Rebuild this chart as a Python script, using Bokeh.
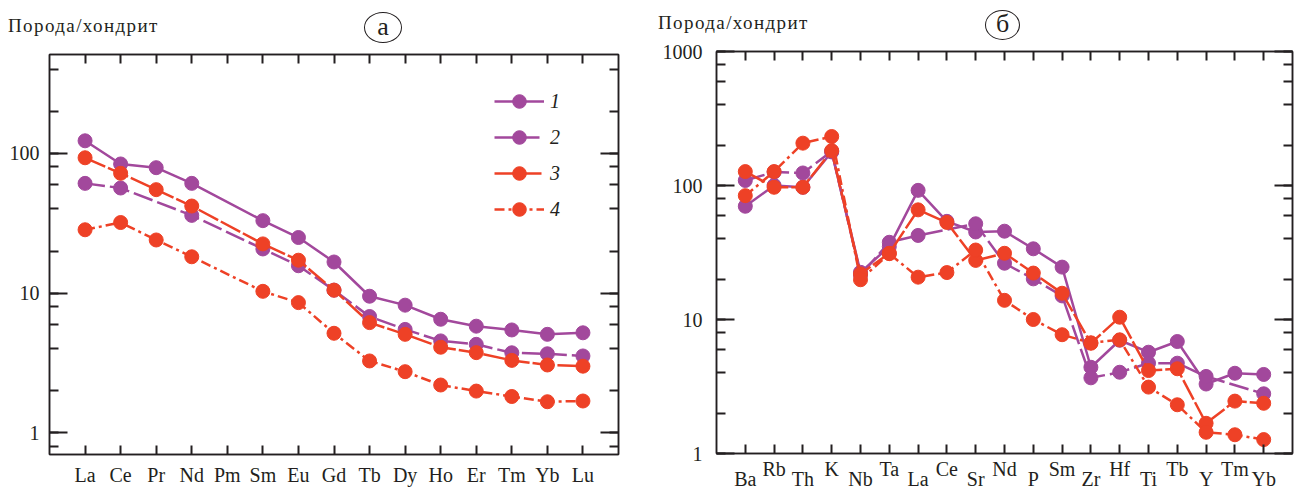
from bokeh.plotting import figure
from bokeh.models import (LinearAxis, LogAxis, FixedTicker, LogTicker, NumeralTickFormatter,
                          Legend, LegendItem, ColumnDataSource, Div)
from bokeh.layouts import row, column
from bokeh.embed import file_html
from bokeh.resources import INLINE

# ---------------- data ----------------
ree = ["La", "Ce", "Pr", "Nd", "Pm", "Sm", "Eu", "Gd", "Tb", "Dy", "Ho", "Er", "Tm", "Yb", "Lu"]
ree_1 = [123, 84, 79, 61, None, 33, 25, 16.7, 9.5, 8.2, 6.5, 5.8, 5.45, 5.07, 5.2]
ree_2 = [61, 56.5, None, 36, None, 20.7, 15.7, 10.5, 6.8, 5.5, 4.55, 4.3, 3.74, 3.68, 3.55]
ree_3 = [93, 72, 55, 42, None, 22.5, 17.2, 10.5, 6.15, 5.07, 4.1, 3.75, 3.3, 3.06, 3.0]
ree_4 = [28.4, 32, 24, 18.2, None, 10.3, 8.55, 5.16, 3.27, 2.74, 2.2, 1.99, 1.82, 1.67, 1.69]

spider = ["Ba", "Rb", "Th", "K", "Nb", "Ta", "La", "Ce", "Sr", "Nd", "P", "Sm", "Zr", "Hf",
          "Ti", "Tb", "Y", "Tm", "Yb"]
sp_1 = [70, 100, 97, 178, 22.5, 35, 92, 54, 45, 45.6, 33.7, 24.6, 4.4, 7.0, 5.7, 6.85, 3.3, 3.97, 3.89]
sp_2 = [109, 126, 124, 180, 21.5, 37.7, 42.4, None, 51.8, 26.3, 20.1, 15, 3.67, 4.04, 4.72, 4.72, 3.76, None, 2.79]
sp_3 = [127, 97, 97, 182, 21.9, 31.2, 65.8, 53, 27.6, 31.2, 22.2, 15.7, 6.65, 10.4, 4.16, 4.29, 1.68, 2.46, 2.37]
sp_4 = [84, 127, 207, 232, 19.8, 31, 20.7, 22.4, 33, 13.9, 10, 7.7, 6.7, 7.05, 3.13, 2.31, 1.44, 1.38, 1.27]

series_labels = ["1", "2", "3", "4"]
y_title = "Порода/хондрит"
panel_letters = ["а", "б"]
log_decades = [0.1, 1, 10, 100, 1000]

# ---------------- styles ----------------
PURPLE = "#a2489c"
ORANGE = "#ee4126"
INK = "#231f20"
FONT = "Liberation Serif"
styles = [
    dict(color=PURPLE, dash="solid"),
    dict(color=PURPLE, dash="20 5"),
    dict(color=ORANGE, dash="22 3"),
    dict(color=ORANGE, dash="10 4 3 4"),
]


def style_axis(ax, major_in, minor_in, standoff):
    ax.axis_line_color = INK
    ax.axis_line_width = 1.5
    ax.major_tick_line_color = INK
    ax.minor_tick_line_color = INK
    ax.major_tick_line_width = 2
    ax.minor_tick_line_width = 2
    ax.major_tick_in = major_in
    ax.major_tick_out = 0
    ax.minor_tick_in = minor_in
    ax.minor_tick_out = 0
    ax.major_label_standoff = standoff
    ax.major_label_text_font = FONT
    ax.major_label_text_color = INK
    ax.major_label_text_font_size = "20px"


def make_header(width, height, cap_pos, letter, circ):
    cl, ct = cap_pos
    ox, oy, ow, oh = circ
    html = (
        f'<div style="position:relative;width:{width}px;height:{height}px;margin:0;padding:0;'
        f"font-family:'Liberation Serif','DejaVu Serif',serif;color:{INK};\">"
        f'<div style="position:absolute;left:{cl}px;top:{ct}px;font-size:19px;line-height:23px;'
        f'letter-spacing:1.4px;white-space:nowrap;">{y_title}</div>'
        f'<div style="position:absolute;left:{ox}px;top:{oy}px;width:{ow}px;height:{oh}px;'
        f'box-sizing:border-box;border:1.5px solid {INK};border-radius:50%;text-align:center;'
        f'font-size:26px;line-height:{oh - 4}px;">{letter}</div>'
        '</div>'
    )
    return Div(text=html, width=width, height=height, margin=0)


def make_panel(names, series, width, height, y_range, borders, x_label_map, y_standoff, x_standoff):
    bl, br, bt, bb = borders
    p = figure(width=width, height=height, x_range=(-1, len(names)), y_range=y_range, title=None,
               y_axis_type="log", output_backend="svg", toolbar_location=None,
               min_border_left=bl, min_border_right=br, min_border_top=bt, min_border_bottom=bb)
    p.xgrid.visible = False
    p.ygrid.visible = False
    p.outline_line_color = INK
    p.outline_line_width = 1.5

    ticks = list(range(len(names)))
    xa = p.xaxis[0]
    xa.ticker = FixedTicker(ticks=ticks, minor_ticks=[])
    xa.major_label_overrides = x_label_map
    style_axis(xa, 9, 0, x_standoff)

    ya = p.yaxis[0]
    ya.ticker = LogTicker()
    ya.formatter = NumeralTickFormatter(format="0")
    style_axis(ya, 18, 9, y_standoff)

    top = LinearAxis(ticker=FixedTicker(ticks=[], minor_ticks=ticks))
    style_axis(top, 9, 9, 0)
    p.add_layout(top, "above")
    right = LogAxis(ticker=LogTicker())
    style_axis(right, 18, 9, 0)
    right.major_label_overrides = {d: "" for d in log_decades}
    p.add_layout(right, "right")

    renderers = []
    for vals, st in zip(series, styles):
        idx = [i for i, v in enumerate(vals) if v is not None]
        src = ColumnDataSource(dict(x=idx, y=[vals[i] for i in idx]))
        ln = p.line("x", "y", source=src, line_color=st["color"], line_width=2.5, line_dash=st["dash"])
        sc = p.scatter("x", "y", source=src, size=14, fill_color=st["color"], line_color=st["color"],
                       line_width=1)
        renderers.append((ln, sc))
    return p, renderers


# ---------------- panel a ----------------
h1 = make_header(640, 44, (8, 14), panel_letters[0], (364, 12, 38, 31))
p1, r1 = make_panel(ree, [ree_1, ree_2, ree_3, ree_4], 640, 448, (0.7, 510), (49, 22, 10, 38),
                    {i: n for i, n in enumerate(ree)}, 10, 9)
legend = Legend(items=[LegendItem(label=lab, renderers=[ln, sc]) for lab, (ln, sc) in zip(series_labels, r1)],
                location=(445, 228), glyph_width=50, glyph_height=34, label_height=20, spacing=2,
                padding=0, margin=0, border_line_color=None, background_fill_alpha=0,
                label_text_font=FONT, label_text_font_style="italic", label_text_font_size="20px",
                label_text_color=INK, label_standoff=6)
p1.add_layout(legend)

# ---------------- panel б ----------------
upper = {i: (n if i % 2 == 1 else "") for i, n in enumerate(spider)}
h2 = make_header(659, 41, (18, 11), panel_letters[1], (345, 10, 35, 30))
p2, r2 = make_panel(spider, [sp_1, sp_2, sp_3, sp_4], 659, 451, (1, 1000), (76, 7, 10, 39),
                    upper, 14, 4)
lower_idx = [i for i in range(len(spider)) if i % 2 == 0]
lower_axis = LinearAxis(ticker=FixedTicker(ticks=lower_idx, minor_ticks=[]),
                        major_label_overrides={i: spider[i] for i in lower_idx})
style_axis(lower_axis, 0, 0, -15)
lower_axis.axis_line_color = None
lower_axis.major_tick_line_color = None
lower_axis.minor_tick_line_color = None
p2.add_layout(lower_axis, "below")

layout = row(column(h1, p1), column(h2, p2))
open("out.html", "w").write(file_html(layout, INLINE))
